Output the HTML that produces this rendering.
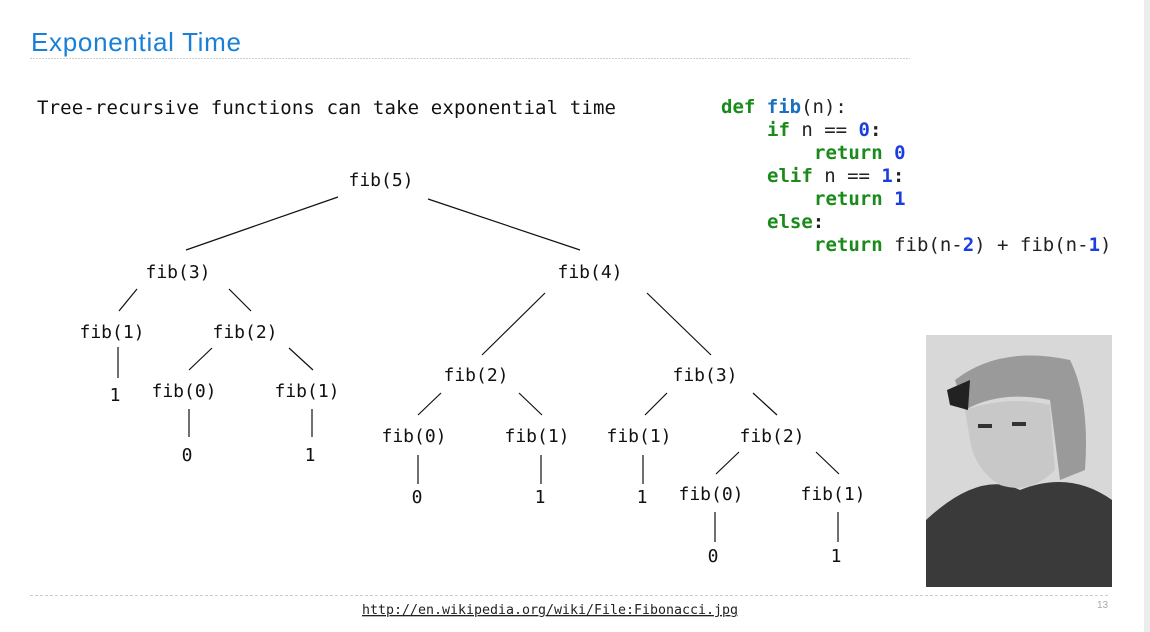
<!DOCTYPE html>
<html><head><meta charset="utf-8"><style>
html,body{margin:0;padding:0;background:#fff;}
body{width:1150px;height:632px;overflow:hidden;position:relative;}
svg{position:absolute;left:0;top:0;}
</style></head><body>
<svg width="1150" height="632" viewBox="0 0 1150 632" xmlns="http://www.w3.org/2000/svg">
<rect x="1144" y="0" width="6" height="632" fill="#ececec"/>
<text x="31" y="51" font-family="Liberation Sans, sans-serif" font-size="26" fill="#1a80d6" textLength="210">Exponential Time</text>
<line x1="30" y1="58.5" x2="910" y2="58.5" stroke="#ccc" stroke-dasharray="2,1"/>
<line x1="30" y1="595.5" x2="1108" y2="595.5" stroke="#ccc" stroke-dasharray="3,2"/>
<text x="1097" y="608" font-family="Liberation Sans, sans-serif" font-size="10" fill="#aaa">13</text>
<text x="362" y="614" font-family="DejaVu Sans Mono, monospace" font-size="13.3" fill="#222" text-decoration="underline" textLength="376">http://en.wikipedia.org/wiki/File:Fibonacci.jpg</text>
<g font-family="DejaVu Sans Mono, monospace" font-size="19" fill="#111">
<text x="37" y="114" textLength="579">Tree-recursive functions can take exponential time</text>
</g>
<g font-family="DejaVu Sans Mono, monospace" font-size="19" font-weight="bold" fill="#222">
<text x="721" y="113"><tspan fill="#1a8a1a">def</tspan> <tspan fill="#1a6fc0">fib</tspan><tspan font-weight="normal">(n):</tspan></text>
<text x="767" y="136"><tspan fill="#1a8a1a">if</tspan><tspan font-weight="normal"> n == </tspan><tspan fill="#1b3ee0">0</tspan>:</text>
<text x="814" y="159" fill="#1a8a1a">return <tspan fill="#1b3ee0">0</tspan></text>
<text x="767" y="182"><tspan fill="#1a8a1a">elif</tspan><tspan font-weight="normal"> n == </tspan><tspan fill="#1b3ee0">1</tspan>:</text>
<text x="814" y="205" fill="#1a8a1a">return <tspan fill="#1b3ee0">1</tspan></text>
<text x="767" y="228"><tspan fill="#1a8a1a">else</tspan>:</text>
<text x="814" y="251"><tspan fill="#1a8a1a">return</tspan><tspan font-weight="normal"> fib(n-</tspan><tspan fill="#1b3ee0">2</tspan><tspan font-weight="normal">) + fib(n-</tspan><tspan fill="#1b3ee0">1</tspan><tspan font-weight="normal">)</tspan></text>
</g>
<g stroke="#111" stroke-width="1.2">
<line x1="338" y1="197" x2="186" y2="250"/><line x1="428" y1="199" x2="580" y2="250"/>
<line x1="137" y1="289" x2="119" y2="311"/><line x1="229" y1="289" x2="251" y2="311"/>
<line x1="118" y1="347" x2="118" y2="378"/>
<line x1="212" y1="348" x2="189" y2="370"/><line x1="289" y1="348" x2="313" y2="370"/>
<line x1="189" y1="409" x2="189" y2="437"/><line x1="312" y1="409" x2="312" y2="437"/>
<line x1="545" y1="293" x2="482" y2="355"/><line x1="647" y1="293" x2="711" y2="355"/>
<line x1="441" y1="393" x2="418" y2="415"/><line x1="519" y1="393" x2="542" y2="415"/>
<line x1="418" y1="455" x2="418" y2="484"/><line x1="541" y1="455" x2="541" y2="484"/>
<line x1="667" y1="393" x2="645" y2="415"/><line x1="753" y1="393" x2="777" y2="415"/>
<line x1="643" y1="455" x2="643" y2="484"/>
<line x1="739" y1="452" x2="716" y2="474"/><line x1="816" y1="452" x2="839" y2="474"/>
<line x1="715" y1="512" x2="715" y2="542"/><line x1="838" y1="512" x2="838" y2="542"/>
</g>
<g font-family="DejaVu Sans Mono, monospace" font-size="18" fill="#111" text-anchor="middle">
<text x="381" y="186">fib(5)</text>
<text x="178" y="278">fib(3)</text><text x="590" y="278">fib(4)</text>
<text x="112" y="338">fib(1)</text><text x="245" y="338">fib(2)</text>
<text x="115" y="401">1</text><text x="184" y="397">fib(0)</text><text x="307" y="397">fib(1)</text>
<text x="187" y="461">0</text><text x="310" y="461">1</text>
<text x="476" y="381">fib(2)</text><text x="705" y="381">fib(3)</text>
<text x="414" y="442">fib(0)</text><text x="537" y="442">fib(1)</text>
<text x="639" y="442">fib(1)</text><text x="772" y="442">fib(2)</text>
<text x="417" y="503">0</text><text x="540" y="503">1</text><text x="642" y="503">1</text>
<text x="711" y="500">fib(0)</text><text x="833" y="500">fib(1)</text>
<text x="713" y="562">0</text><text x="836" y="562">1</text>
</g>
<g>
<rect x="926" y="335" width="186" height="252" fill="#d8d8d8"/>
<path d="M926 520 Q980 470 1020 490 Q1070 470 1112 500 L1112 587 L926 587Z" fill="#3a3a3a"/>
<path d="M955 380 Q1000 345 1070 360 Q1090 400 1085 470 L1060 480 L1050 400 Q1000 390 965 410Z" fill="#9a9a9a"/>
<path d="M965 410 Q1010 395 1050 405 L1055 470 Q1030 495 1000 485 Q975 470 970 440Z" fill="#c8c8c8"/>
<path d="M947 390 L970 380 L968 410 L950 405Z" fill="#222"/>
<rect x="978" y="424" width="14" height="4" fill="#333"/><rect x="1012" y="422" width="14" height="4" fill="#333"/>
</g>
</svg>
</body></html>
